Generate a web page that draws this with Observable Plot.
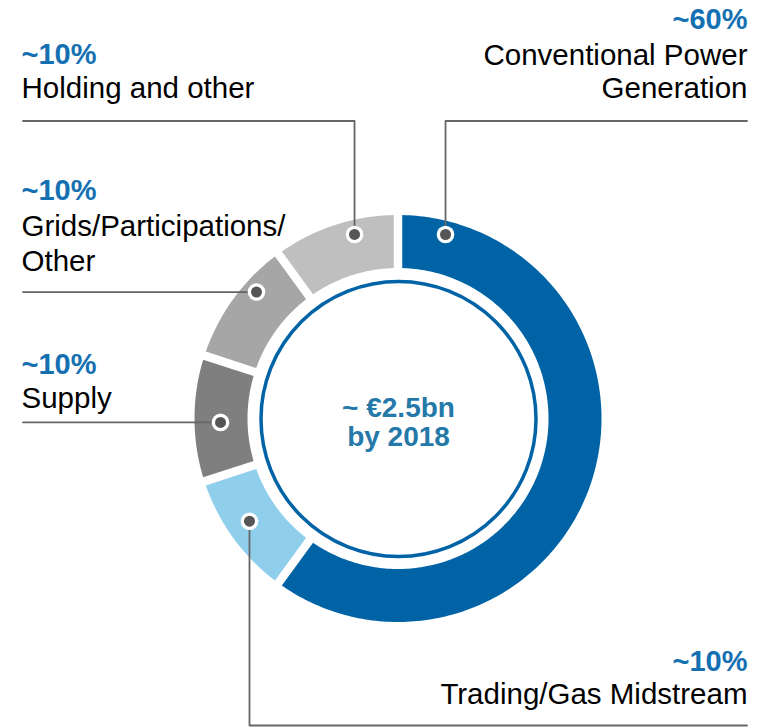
<!DOCTYPE html>
<html>
<head>
<meta charset="utf-8">
<script src="https://cdn.jsdelivr.net/npm/d3@7"></script>
<script src="https://cdn.jsdelivr.net/npm/@observablehq/plot@0.6"></script>
<style>
  html, body { margin: 0; padding: 0; background: #fff; }
  #chart svg { display: block; }
</style>
</head>
<body>
<div id="chart"></div>
<script>
// ---- data ----
const categories = ["Conventional Power Generation", "Trading/Gas Midstream", "Supply", "Grids/Participations/Other", "Holding and other"];
const shares = [60, 10, 10, 10, 10];
const shareLabels = ["~60%", "~10%", "~10%", "~10%", "~10%"];
const labelLines = [["Conventional Power", "Generation"], ["Trading/Gas Midstream"], ["Supply"], ["Grids/Participations/", "Other"], ["Holding and other"]];
const centerLines = ["~ €2.5bn", "by 2018"];
const segmentColors = ["#0063a6", "#8fcfec", "#7f7f7f", "#a6a6a6", "#bfbfbf"];

// ---- layout ----
const W = 760, H = 728;
const donut = {cx: 398, cy: 418.5, outer: 203.5, inner: 150.5, pad: 8.5, ring: 137.5, ringWidth: 3.5};
const callouts = [
  {angle: 14.3,   r: 190.4, elbowY: 120.5, endX: 746.5, anchor: "end",   tx: 747, ys: [28.5, 64, 97.5]},
  {angle: 235.55, r: 180.7, elbowY: 725,   endX: 746.5, anchor: "end",   tx: 747, ys: [670, 703]},
  {angle: 268.9,  r: 178,   elbowY: null,  endX: 22.5,  anchor: "start", tx: 21,  ys: [373.3, 407]},
  {angle: 311.8,  r: 190.5, elbowY: null,  endX: 22.5,  anchor: "start", tx: 21,  ys: [199.3, 235, 270]},
  {angle: 346.6,  r: 189.7, elbowY: 120.5, endX: 22.5,  anchor: "start", tx: 21,  ys: [63.5, 97]}
];
const font = "'Liberation Sans', Arial, Helvetica, sans-serif";
const pctColor = "#1570b2", centerColor = "#2479a9", dotColor = "#555557", leaderColor = "#666666";

// ---- derived geometry ----
const rows = categories.map((name, i) => ({name, share: shares[i]}));
const pie = d3.pie().sort(null).value(d => d.share).startAngle(0).endAngle(2 * Math.PI)(rows);
const polar = (a, r) => [donut.cx + r * Math.sin(a), donut.cy - r * Math.cos(a)];

const arcPts = pie.flatMap(p => {
  const dO = Math.asin(donut.pad / 2 / donut.outer);
  const dI = Math.asin(donut.pad / 2 / donut.inner);
  const a0o = p.startAngle + dO, a1o = p.endAngle - dO;
  const a0i = p.startAngle + dI, a1i = p.endAngle - dI;
  const n = Math.max(12, Math.ceil((p.endAngle - p.startAngle) * 180 / Math.PI));
  return d3.range(n + 1).map(i => {
    const t = i / n;
    const [x1, y1] = polar(a0o + t * (a1o - a0o), donut.outer);
    const [x2, y2] = polar(a0i + t * (a1i - a0i), donut.inner);
    return {name: p.data.name, x1, y1, x2, y2};
  });
});

const dots = callouts.map((c, i) => {
  const [x, y] = polar(c.angle * Math.PI / 180, c.r);
  return {name: categories[i], x, y};
});

const leaders = callouts.flatMap((c, i) => {
  const d = dots[i];
  const pts = [{name: d.name, x: d.x, y: d.y}];
  if (c.elbowY != null) {
    pts.push({name: d.name, x: d.x, y: c.elbowY});
    pts.push({name: d.name, x: c.endX, y: c.elbowY});
  } else {
    pts.push({name: d.name, x: c.endX, y: d.y});
  }
  return pts;
});

const textMarks = callouts.flatMap((c, i) => {
  const lines = [shareLabels[i], ...labelLines[i]];
  const items = lines.map((t, j) => ({x: c.tx, y: c.ys[j], text: t, pct: j === 0}));
  return [
    Plot.text(items.filter(d => d.pct), {x: "x", y: "y", text: "text", textAnchor: c.anchor, lineAnchor: "bottom",
      fontSize: 29, fontWeight: "bold", fill: pctColor, fontFamily: font}),
    Plot.text(items.filter(d => !d.pct), {x: "x", y: "y", text: "text", textAnchor: c.anchor, lineAnchor: "bottom",
      fontSize: 29.5, fill: "#000", fontFamily: font})
  ];
});

const centerItems = centerLines.map((t, j) => ({x: donut.cx, y: [416, 445][j], text: t}));

const chart = Plot.plot({
  width: W,
  height: H,
  margin: 0,
  x: {domain: [0, W], range: [0, W], axis: null},
  y: {domain: [0, H], range: [0, H], axis: null},
  color: {domain: categories, range: segmentColors},
  style: {fontFamily: font, background: "#fff", overflow: "visible"},
  marks: [
    Plot.area(arcPts, {x1: "x1", y1: "y1", x2: "x2", y2: "y2", z: "name", fill: "name"}),
    Plot.dot([{x: donut.cx, y: donut.cy}], {x: "x", y: "y", r: donut.ring, fill: "none", stroke: segmentColors[0], strokeWidth: donut.ringWidth}),
    Plot.line(leaders, {x: "x", y: "y", z: "name", stroke: leaderColor, strokeWidth: 1.8}),
    Plot.dot(dots, {x: "x", y: "y", r: 8.8, fill: "#fff", stroke: "none"}),
    Plot.dot(dots, {x: "x", y: "y", r: 5.5, fill: dotColor, stroke: "none"}),
    ...textMarks,
    Plot.text(centerItems, {x: "x", y: "y", text: "text", textAnchor: "middle", lineAnchor: "bottom",
      fontSize: 28, fontWeight: "bold", fill: centerColor, fontFamily: font})
  ]
});
document.getElementById("chart").appendChild(chart);
</script>
</body>
</html>
